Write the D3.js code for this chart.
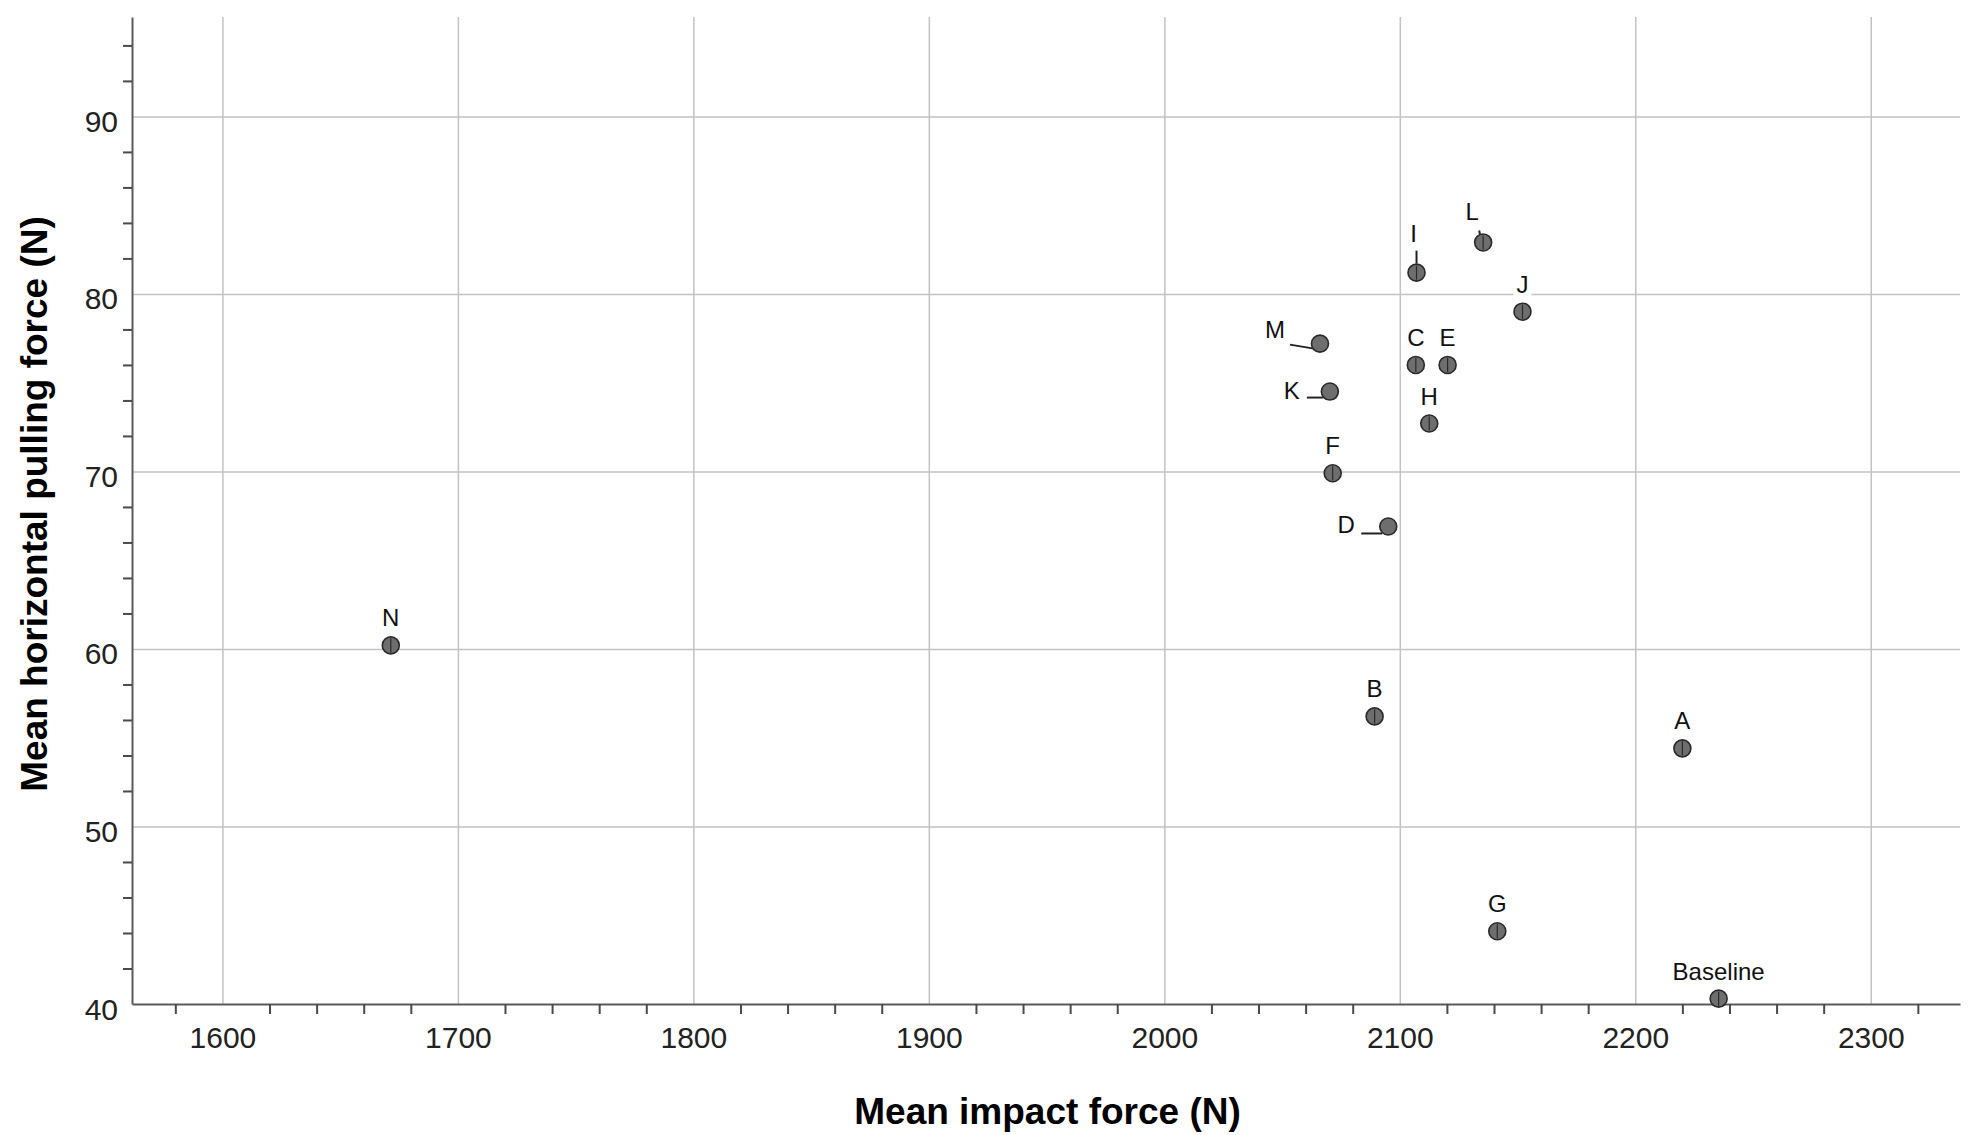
<!DOCTYPE html>
<html>
<head>
<meta charset="utf-8">
<script src="https://d3js.org/d3.v7.min.js"></script>
<style>
  body { margin: 0; background: #fff; }
  text { font-family: "Liberation Sans", Arial, sans-serif; }
</style>
</head>
<body>
<div id="chart"></div>
<script>
// data
var labels = ["Baseline", "A", "B", "C", "D", "E", "F", "G", "H", "I", "J", "K", "L", "M", "N"];
var impactForce = [2235.4, 2220.0, 2089.3, 2106.8, 2095.1, 2120.3, 2071.5, 2141.4, 2112.5, 2107.1, 2152.1, 2070.3, 2135.4, 2066.1, 1671.5];
var pullingForce = [40.3, 54.4, 56.2, 76.0, 66.9, 76.0, 69.9, 44.1, 72.7, 81.2, 79.0, 74.5, 82.9, 77.2, 60.2];
var xTicks = [1600, 1700, 1800, 1900, 2000, 2100, 2200, 2300];
var yTicks = [40, 50, 60, 70, 80, 90];

var margin = {top: 17, right: 10, bottom: 131, left: 132},
  width = 1970 - margin.left - margin.right,
  height = 1135 - margin.top - margin.bottom;

// label placement (offsets from the point, px) for the labels that are moved aside
var placement = {
  I: {dx: -3, dy: -31, lead: [0, -22, 0, -9]},
  L: {dx: -11, dy: -22, lead: [-4, -12, -3, -7]},
  M: {dx: -45, dy: -6, lead: [-30, 1, -6, 5]},
  K: {dx: -38, dy: 7, lead: [-23, 6, -7, 6]},
  D: {dx: -42, dy: 7, lead: [-27, 7, -6, 7]}
};

var x = d3.scaleLinear().domain([1561.6, 2337.9]).range([0, width]);
var y = d3.scaleLinear().domain([40, 95.6]).range([height, 0]);

var svg = d3.select("#chart").append("svg")
  .attr("width", width + margin.left + margin.right)
  .attr("height", height + margin.top + margin.bottom)
  .append("g")
  .attr("transform", "translate(" + margin.left + "," + margin.top + ")");

// gridlines
svg.append("g")
  .attr("class", "grid")
  .call(d3.axisLeft(y).tickValues(yTicks.slice(1)).tickSize(-width).tickFormat(""));
svg.append("g")
  .attr("class", "grid")
  .attr("transform", "translate(0," + height + ")")
  .call(d3.axisBottom(x).tickValues(xTicks).tickSize(height).tickFormat(""))
  .selectAll("line").attr("y2", -height);
svg.selectAll(".grid .domain").remove();
svg.selectAll(".grid line").attr("stroke", "#c2c2c2").attr("stroke-width", 1.5);

// minor ticks
var xMinor = d3.range(1580, 2338, 20).filter(function(v) { return v % 100 != 0; });
var yMinor = d3.range(42, 96, 2).filter(function(v) { return v % 10 != 0; });

var xAxis = svg.append("g")
  .attr("transform", "translate(0," + height + ")")
  .call(d3.axisBottom(x).tickValues(xMinor).tickSize(10).tickSizeOuter(0).tickFormat(""));
var yAxis = svg.append("g")
  .call(d3.axisLeft(y).tickValues(yMinor).tickSize(9).tickSizeOuter(0).tickFormat(""));
[xAxis, yAxis].forEach(function(a) {
  a.select(".domain").attr("stroke", "#5a5a5a").attr("stroke-width", 2);
  a.selectAll(".tick line").attr("stroke", "#4a4a4a").attr("stroke-width", 2);
});

// tick labels
svg.append("g")
  .attr("transform", "translate(0," + height + ")")
  .call(d3.axisBottom(x).tickValues(xTicks).tickSize(0).tickFormat(d3.format("d")))
  .call(function(g) { g.select(".domain").remove(); })
  .selectAll("text")
  .attr("y", 44).attr("dy", null)
  .attr("font-size", 30).attr("font-family", null).attr("fill", "#222");
svg.append("g")
  .call(d3.axisLeft(y).tickValues(yTicks).tickSize(0).tickFormat(d3.format("d")))
  .call(function(g) { g.select(".domain").remove(); })
  .selectAll("text")
  .attr("x", -14).attr("y", 15).attr("dy", null)
  .attr("font-size", 30).attr("font-family", null).attr("fill", "#222");

// axis titles
svg.append("text")
  .attr("x", 1047.5 - margin.left)
  .attr("y", 1124 - margin.top)
  .attr("text-anchor", "middle")
  .attr("font-size", 37).attr("font-weight", "bold")
  .text("Mean impact force (N)");
svg.append("text")
  .attr("transform", "translate(" + (47 - margin.left) + "," + (504 - margin.top) + ") rotate(-90)")
  .attr("text-anchor", "middle")
  .attr("font-size", 37).attr("font-weight", "bold")
  .text("Mean horizontal pulling force (N)");

var points = labels.map(function(l, i) {
  return {label: l, impact: impactForce[i], pull: pullingForce[i]};
});
var place = function(d) { return placement[d.label] || {dx: 0, dy: -19}; };

// leader lines
svg.selectAll(".lead")
  .data(points.filter(function(d) { return place(d).lead; }))
  .enter().append("line")
  .attr("x1", function(d) { return x(d.impact) + place(d).lead[0]; })
  .attr("y1", function(d) { return y(d.pull) + place(d).lead[1]; })
  .attr("x2", function(d) { return x(d.impact) + place(d).lead[2]; })
  .attr("y2", function(d) { return y(d.pull) + place(d).lead[3]; })
  .attr("stroke", "#222").attr("stroke-width", 2);

// labels with white backing
var lab = svg.selectAll(".lab")
  .data(points)
  .enter().append("g");
lab.append("text")
  .attr("x", function(d) { return x(d.impact) + place(d).dx; })
  .attr("y", function(d) { return y(d.pull) + place(d).dy; })
  .attr("text-anchor", "middle")
  .attr("font-size", 24).attr("fill", "#111")
  .text(function(d) { return d.label; });
lab.each(function() {
  var g = d3.select(this), b = g.select("text").node().getBBox();
  g.insert("rect", "text")
    .attr("x", b.x - 3).attr("y", b.y + 2)
    .attr("width", b.width + 6).attr("height", b.height - 2)
    .attr("fill", "#fff");
});

// points
svg.selectAll(".dot")
  .data(points)
  .enter().append("circle")
  .attr("class", "dot")
  .attr("cx", function(d) { return x(d.impact); })
  .attr("cy", function(d) { return y(d.pull); })
  .attr("r", 8.5)
  .attr("fill", "#6e6e6e")
  .attr("stroke", "#2a2a2a").attr("stroke-width", 1.6);
svg.selectAll(".bar")
  .data(points.filter(function(d) { return ["M", "K", "D"].indexOf(d.label) < 0; }))
  .enter().append("line")
  .attr("x1", function(d) { return x(d.impact); })
  .attr("x2", function(d) { return x(d.impact); })
  .attr("y1", function(d) { return y(d.pull) - 7; })
  .attr("y2", function(d) { return y(d.pull) + 7; })
  .attr("stroke", "#2a2a2a").attr("stroke-width", 1.2);
</script>
</body>
</html>
